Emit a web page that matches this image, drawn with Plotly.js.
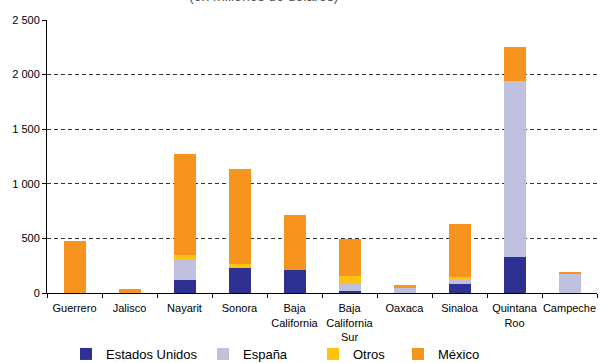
<!DOCTYPE html>
<html>
<head>
<meta charset="utf-8">
<script src="https://cdn.plot.ly/plotly-3.0.1.min.js"></script>
<style>html,body{margin:0;padding:0;background:#fff}#chart{width:613px;height:363px}</style>
</head>
<body>
<div id="chart"></div>
<script>
const categories = ["Guerrero", "Jalisco", "Nayarit", "Sonora", "Baja<br>California", "Baja<br>California<br>Sur", "Oaxaca", "Sinaloa", "Quintana<br>Roo", "Campeche"];
const estadosUnidos = [0, 0, 115, 225, 210, 15, 3, 80, 330, 0];
const espana = [0, 0, 190, 0, 0, 65, 45, 45, 1610, 175];
const otros = [0, 0, 45, 45, 0, 80, 0, 20, 0, 0];
const mexico = [475, 40, 925, 865, 500, 335, 25, 485, 310, 17];
const seriesNames = ["Estados Unidos", "España", "Otros", "México"];
const seriesColors = ["#2E3192", "#C0C0DF", "#FFC20E", "#F7941D"];
const seriesValues = [estadosUnidos, espana, otros, mexico];
const legendIds = ["legend", "legend2", "legend3", "legend4"];
const legendX = [66, 203, 313, 398];
const titleText = "(en millones de dólares)";

const traces = seriesValues.map((vals, i) => ({
  type: "bar",
  x: categories,
  y: vals,
  name: seriesNames[i],
  marker: {color: seriesColors[i], line: {width: 0}},
  legend: legendIds[i],
  hoverinfo: "y+name"
}));

const legendBase = {
  orientation: "h",
  xref: "container", yref: "container",
  yanchor: "middle", xanchor: "left",
  y: 1 - 354/363,
  font: {family: "Liberation Sans, Arial, sans-serif", size: 13, color: "#000"},
  bgcolor: "rgba(0,0,0,0)",
  itemwidth: 30
};

const layout = {
  width: 613, height: 363,
  margin: {l: 47, r: 16, t: 20, b: 70},
  paper_bgcolor: "#fff", plot_bgcolor: "#fff",
  barmode: "stack",
  bargap: 0.6,
  separators: ", ",
  font: {family: "Liberation Sans, Arial, sans-serif", size: 11, color: "#000"},
  annotations: [{
    text: titleText,
    xref: "paper", yref: "paper",
    x: 0.393, xanchor: "center",
    y: 1.052, yanchor: "bottom",
    showarrow: false,
    font: {family: "Liberation Sans, Arial, sans-serif", size: 14, color: "#555"}
  }],
  xaxis: {
    type: "category",
    showline: true, linecolor: "#000", linewidth: 1,
    ticks: "outside", tickson: "boundaries", ticklen: 4, tickcolor: "#000",
    showgrid: false, zeroline: false,
    tickangle: 0,
    ticklabelstandoff: 5,
    tickfont: {size: 11}
  },
  yaxis: {
    range: [0, 2500], dtick: 500, tick0: 0,
    showline: true, linecolor: "#000", linewidth: 1,
    ticks: "outside", ticklen: 4, tickcolor: "#000",
    showgrid: true, gridcolor: "#333", griddash: "4px,3px", gridwidth: 1,
    zeroline: false,
    tickformat: ",d",
    tickfont: {size: 11}
  },
  showlegend: true
};
legendIds.forEach((id, i) => {
  layout[id] = Object.assign({}, legendBase, {x: legendX[i] / 613});
});

Plotly.newPlot("chart", traces, layout, {displayModeBar: false, staticPlot: true});
</script>
</body>
</html>
